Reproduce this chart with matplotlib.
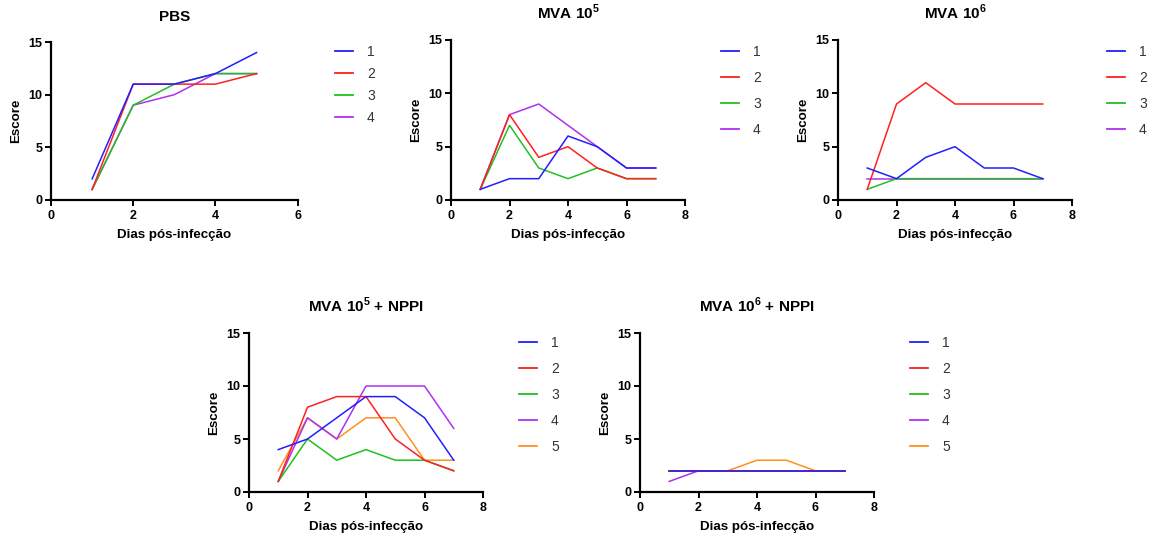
import matplotlib
matplotlib.use('Agg')
import matplotlib.pyplot as plt
from matplotlib.transforms import offset_copy

plt.rcParams['font.family'] = ['Liberation Sans', 'DejaVu Sans']
plt.rcParams['mathtext.fontset'] = 'custom'
plt.rcParams['mathtext.rm'] = 'Liberation Sans:bold'
plt.rcParams['mathtext.bf'] = 'Liberation Sans:bold'

# Dados (escore por dia pós-infecção)
dias_pbs = [1, 2, 3, 4, 5]
dias = [1, 2, 3, 4, 5, 6, 7]

pbs = [
    [2, 11, 11, 12, 14],
    [1, 11, 11, 11, 12],
    [1, 9, 11, 12, 12],
    [1, 9, 10, 12, 12],
]
mva5 = [
    [1, 2, 2, 6, 5, 3, 3],
    [1, 8, 4, 5, 3, 2, 2],
    [1, 7, 3, 2, 3, 2, 2],
    [1, 8, 9, 7, 5, 3, 3],
]
mva6 = [
    [3, 2, 4, 5, 3, 3, 2],
    [1, 9, 11, 9, 9, 9, 9],
    [1, 2, 2, 2, 2, 2, 2],
    [2, 2, 2, 2, 2, 2, 2],
]
mva5_nppi = [
    [4, 5, 7, 9, 9, 7, 3],
    [1, 8, 9, 9, 5, 3, 2],
    [1, 5, 3, 4, 3, 3, 2],
    [1, 7, 5, 10, 10, 10, 6],
    [2, 7, 5, 7, 7, 3, 3],
]
mva6_nppi = [
    [2, 2, 2, 2, 2, 2, 2],
    [2, 2, 2, 2, 2, 2, 2],
    [2, 2, 2, 2, 2, 2, 2],
    [1, 2, 2, 2, 2, 2, 2],
    [2, 2, 2, 3, 3, 2, 2],
]
labels = ['1', '2', '3', '4', '5']
cores = ['#2020ff', '#ff2020', '#20c020', '#b030f0', '#ff9020']

W, H = 1152, 541
fig = plt.figure(figsize=(W / 100, H / 100), dpi=100)


def painel(px, top, bottom, width, xs, series, titulo, xmax, leg_x, leg_y, leg_sp):
    ax = fig.add_axes([px / W, (H - bottom) / H, width / W, (bottom - top) / H])
    for i, ys in enumerate(series):
        ax.plot(xs, ys, color=cores[i], lw=1.1, label=labels[i], zorder=10 - i)
    ax.set_xlim(0, xmax)
    ax.set_ylim(0, 15)
    ax.set_xticks(range(0, xmax + 1, 2))
    ax.set_yticks([0, 5, 10, 15])
    for s in ['top', 'right']:
        ax.spines[s].set_visible(False)
    for s in ['left', 'bottom']:
        ax.spines[s].set_linewidth(1.6)
    ax.tick_params(direction='out', length=4, width=1.4, labelsize=9)
    ax.tick_params(axis='x', pad=3.5)
    ax.tick_params(axis='y', pad=2)
    for t in ax.get_xticklabels() + ax.get_yticklabels():
        t.set_fontweight('bold')
    ax.set_xlabel('Dias pós-infecção', fontsize=9.6, fontweight='bold', labelpad=5)
    ax.set_ylabel('Escore', fontsize=9.6, fontweight='bold', labelpad=5)
    # título com linha de base fixa acima do eixo
    tr = offset_copy(ax.transAxes, fig=fig, x=0, y=21, units='dots')
    ax.text(0.5, 1.0, titulo, transform=tr, ha='center', va='baseline',
            fontsize=11, fontweight='bold')
    h, l = ax.get_legend_handles_labels()
    leg = ax.legend(h, l, loc='upper left', bbox_to_anchor=(leg_x / W, (H - leg_y) / H),
                    bbox_transform=fig.transFigure, frameon=False, fontsize=10,
                    handlelength=1.3, handletextpad=1.0, labelspacing=leg_sp,
                    borderpad=0, borderaxespad=0)
    for t in leg.get_texts():
        t.set_color('#333333')
    for ln in leg.get_lines():
        ln.set_linewidth(1.3)
    return ax


painel(51, 42, 200, 246.7, dias_pbs, pbs, 'PBS', 6, 335, 45, 0.58)
painel(451, 40, 200, 234, dias, mva5, r'MVA 10$^{\mathbf{5}}$', 8, 721, 45, 0.87)
painel(838, 40, 200, 234, dias, mva6, r'MVA 10$^{\mathbf{6}}$', 8, 1107, 45, 0.87)
painel(249, 333, 492, 234, dias, mva5_nppi, r'MVA 10$^{\mathbf{5}}$ + NPPI', 8, 519, 336, 0.87)
painel(640, 333, 492, 234, dias, mva6_nppi, r'MVA 10$^{\mathbf{6}}$ + NPPI', 8, 910, 336, 0.87)

fig.savefig('out.png', dpi=100)
